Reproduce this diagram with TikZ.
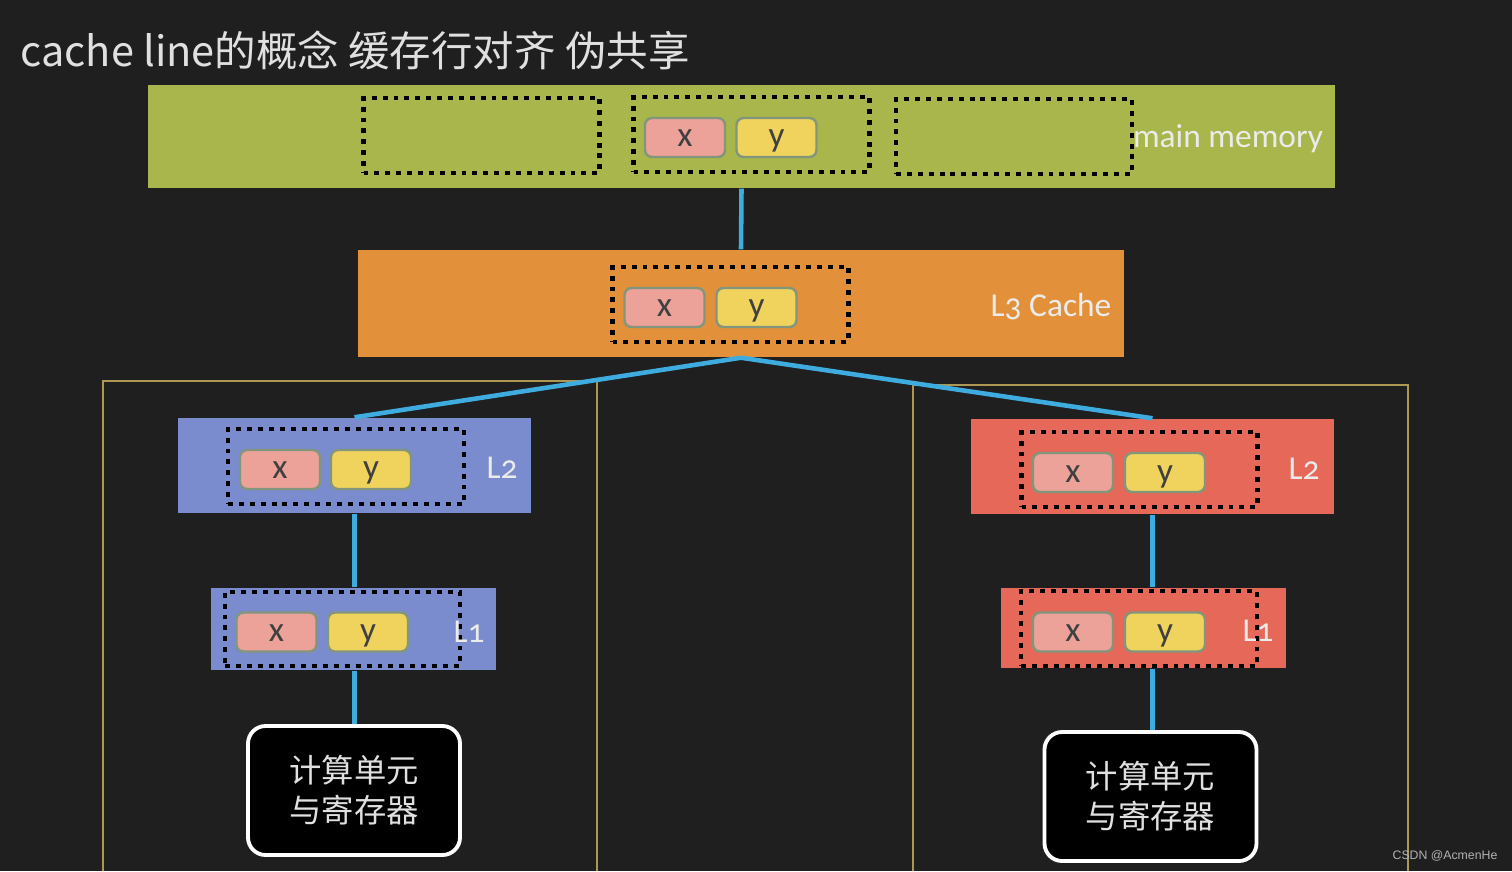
\documentclass[tikz,border=0pt]{standalone}
\usepackage{fontspec}
\setmainfont{Carlito}[Numbers=OldStyle]
\newfontfamily\cjk{Noto Sans CJK SC}
\newfontfamily\markfont{Liberation Sans}
\usetikzlibrary{positioning}

\definecolor{board}{RGB}{31,31,31}
\definecolor{memgreen}{RGB}{169,182,75}
\definecolor{lthree}{RGB}{226,145,58}
\definecolor{coreblue}{RGB}{122,139,206}
\definecolor{corered}{RGB}{230,104,88}
\definecolor{xpink}{RGB}{236,162,152}
\definecolor{yyellow}{RGB}{240,211,92}
\definecolor{cellrim}{RGB}{130,150,125}
\definecolor{wirecyan}{RGB}{62,172,222}
\definecolor{frameyellow}{RGB}{172,152,82}

\tikzset{
  cache/.style={rectangle, inner sep=0pt},
  linebox/.style={draw=black, line width=1.3pt, dash pattern=on 1.4pt off 1.7pt,
    minimum width=2.36cm, minimum height=0.75cm, inner sep=0pt},
  cell/.style={rectangle, rounded corners=2pt, draw=cellrim, line width=0.7pt,
    minimum width=0.8cm, minimum height=0.39cm, inner sep=0pt,
    text height=0.62em, text depth=0.08em,
    text=black!75, font=\fontsize{10}{12}\selectfont},
  xcell/.style={cell, fill=xpink},
  ycell/.style={cell, fill=yyellow},
  tag/.style={text=white!92!black, inner sep=0pt, font=\fontsize{9.5}{11}\selectfont},
  cpu/.style={draw=white, line width=1.1pt, fill=black, rounded corners=5pt,
    minimum width=2.12cm, minimum height=1.29cm, align=center,
    text=white!88!black, font=\cjk\fontsize{9.2}{11.4}\selectfont},
  wire/.style={draw=wirecyan, line width=1.3pt},
  frame/.style={draw=frameyellow, line width=0.6pt}
}

\begin{document}
\begin{tikzpicture}[x=1cm,y=-1cm]
\useasboundingbox (0,0) rectangle (15.12,8.71);
\fill[board] (0,0) rectangle (15.12,8.71);

\node[anchor=west, inner sep=0pt, text=white!88!black, font=\cjk\fontsize{11.8}{14}\selectfont] (T) at (0.20,0.50) {cache line的概念 缓存行对齐 伪共享};

% core frames
\draw[frame] (1.03,8.71) -- (1.03,3.81) -- (5.97,3.81) -- (5.97,8.71);
\draw[frame] (9.13,8.71) -- (9.13,3.85) -- (14.08,3.85) -- (14.08,8.71);

% main memory
\node[cache, fill=memgreen, minimum width=11.87cm, minimum height=1.03cm] (M) at (7.415,1.365) {};
\node[linebox] (M1) at (4.815,1.355) {};
\node[linebox] (M2) at (7.515,1.345) {};
\node[linebox] (M3) at (10.14,1.365) {};
\node[xcell] (Mx) at (6.85,1.375) {x};
\node[ycell] (My) at (7.765,1.375) {y};
\node[tag] (Mt) at (12.28,1.39) {main memory};

% L3
\node[cache, fill=lthree, minimum width=7.66cm, minimum height=1.07cm] (C3) at (7.41,3.035) {};
\node[linebox] (C3d) at (7.305,3.045) {};
\node[xcell] (C3x) at (6.645,3.075) {x};
\node[ycell] (C3y) at (7.565,3.075) {y};
\node[tag] (C3t) at (10.51,3.07) {L3 Cache};

% left core
\node[cache, fill=coreblue, minimum width=3.53cm, minimum height=0.95cm] (A2) at (3.545,4.655) {};
\node[linebox] (A2d) at (3.46,4.665) {};
\node[xcell] (A2x) at (2.80,4.695) {x};
\node[ycell] (A2y) at (3.71,4.695) {y};
\node[tag] (A2t) at (5.02,4.68) {L2};

\node[cache, fill=coreblue, minimum width=2.85cm, minimum height=0.82cm] (A1) at (3.535,6.29) {};
\node[linebox, minimum width=2.35cm, minimum height=0.74cm] (A1d) at (3.425,6.29) {};
\node[xcell] (A1x) at (2.765,6.32) {x};
\node[ycell] (A1y) at (3.68,6.32) {y};
\node[tag] (A1t) at (4.69,6.32) {L1};

\node[cpu] (A0) at (3.54,7.905) {计算单元\\与寄存器};

% right core
\node[cache, fill=corered, minimum width=3.63cm, minimum height=0.95cm] (B2) at (11.525,4.665) {};
\node[linebox] (B2d) at (11.395,4.695) {};
\node[xcell] (B2x) at (10.73,4.725) {x};
\node[ycell] (B2y) at (11.65,4.725) {y};
\node[tag] (B2t) at (13.04,4.69) {L2};

\node[cache, fill=corered, minimum width=2.85cm, minimum height=0.80cm] (B1) at (11.435,6.28) {};
\node[linebox] (B1d) at (11.39,6.285) {};
\node[xcell] (B1x) at (10.73,6.32) {x};
\node[ycell] (B1y) at (11.65,6.32) {y};
\node[tag] (B1t) at (12.58,6.31) {L1};

\node[cpu] (B0) at (11.505,7.965) {计算单元\\与寄存器};

% wires
\draw[wire] (M.south) -- (C3.north);
\draw[wire] (C3.south) -- (A2.north);
\draw[wire] (C3.south) -- (B2.north);
\draw[wire] (A2.south) -- (A2.south |- A1.north);
\draw[wire] (A1.south -| A2.south) -- (A2.south |- A0.north);
\draw[wire] (B2.south) -- (B2.south |- B1.north);
\draw[wire] (B1.south -| B2.south) -- (B2.south |- B0.north);

\node[text=white!70!black, inner sep=0pt, font=\markfont\fontsize{3.5}{4}\selectfont] (W) at (14.45,8.56) {CSDN @AcmenHe};

\end{tikzpicture}
\end{document}
